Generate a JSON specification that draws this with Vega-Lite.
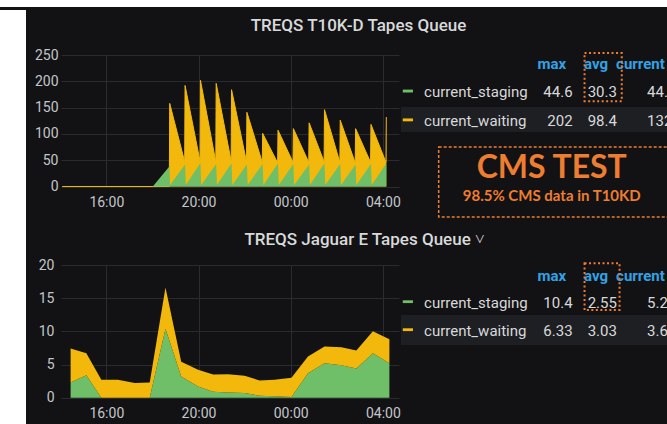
{
  "$schema": "https://vega.github.io/schema/vega-lite/v6.json",
  "background": "#121214",
  "padding": 0,
  "spacing": 0,
  "config": {
    "font": "Roboto",
    "view": {"stroke": null},
    "axis": {"labelFont": "Roboto", "labelFontSize": 14, "labelColor": "#c4c6ca", "gridColor": "#2a2b2f", "gridWidth": 1, "domain": false, "ticks": false},
    "title": {"font": "Roboto", "fontSize": 17, "fontWeight": 500, "color": "#d8d9da", "anchor": "middle"}
  },
  "datasets": {
    "t10k": [
      {"t": "2020-01-01T14:05Z", "series": "current_staging", "v": 0},
      {"t": "2020-01-01T18:01Z", "series": "current_staging", "v": 0},
      {"t": "2020-01-01T18:44Z", "series": "current_staging", "v": 38},
      {"t": "2020-01-01T18:46Z", "series": "current_staging", "v": 3},
      {"t": "2020-01-01T19:25Z", "series": "current_staging", "v": 42},
      {"t": "2020-01-01T19:27Z", "series": "current_staging", "v": 3},
      {"t": "2020-01-01T20:05Z", "series": "current_staging", "v": 44.6},
      {"t": "2020-01-01T20:07Z", "series": "current_staging", "v": 3},
      {"t": "2020-01-01T20:46Z", "series": "current_staging", "v": 43},
      {"t": "2020-01-01T20:48Z", "series": "current_staging", "v": 3},
      {"t": "2020-01-01T21:26Z", "series": "current_staging", "v": 44},
      {"t": "2020-01-01T21:28Z", "series": "current_staging", "v": 3},
      {"t": "2020-01-01T22:06Z", "series": "current_staging", "v": 42},
      {"t": "2020-01-01T22:08Z", "series": "current_staging", "v": 3},
      {"t": "2020-01-01T22:47Z", "series": "current_staging", "v": 43},
      {"t": "2020-01-01T22:49Z", "series": "current_staging", "v": 3},
      {"t": "2020-01-01T23:27Z", "series": "current_staging", "v": 44},
      {"t": "2020-01-01T23:29Z", "series": "current_staging", "v": 3},
      {"t": "2020-01-02T00:07Z", "series": "current_staging", "v": 43},
      {"t": "2020-01-02T00:09Z", "series": "current_staging", "v": 3},
      {"t": "2020-01-02T00:48Z", "series": "current_staging", "v": 42},
      {"t": "2020-01-02T00:50Z", "series": "current_staging", "v": 3},
      {"t": "2020-01-02T01:28Z", "series": "current_staging", "v": 44},
      {"t": "2020-01-02T01:30Z", "series": "current_staging", "v": 3},
      {"t": "2020-01-02T02:09Z", "series": "current_staging", "v": 43},
      {"t": "2020-01-02T02:11Z", "series": "current_staging", "v": 3},
      {"t": "2020-01-02T02:49Z", "series": "current_staging", "v": 42},
      {"t": "2020-01-02T02:51Z", "series": "current_staging", "v": 3},
      {"t": "2020-01-02T03:29Z", "series": "current_staging", "v": 43},
      {"t": "2020-01-02T03:31Z", "series": "current_staging", "v": 3},
      {"t": "2020-01-02T04:09Z", "series": "current_staging", "v": 44.4},
      {"t": "2020-01-01T14:05Z", "series": "current_waiting", "v": 0},
      {"t": "2020-01-01T18:44Z", "series": "current_waiting", "v": 0},
      {"t": "2020-01-01T18:45Z", "series": "current_waiting", "v": 158},
      {"t": "2020-01-01T19:24Z", "series": "current_waiting", "v": 47},
      {"t": "2020-01-01T19:25Z", "series": "current_waiting", "v": 192},
      {"t": "2020-01-01T20:04Z", "series": "current_waiting", "v": 48},
      {"t": "2020-01-01T20:05Z", "series": "current_waiting", "v": 202},
      {"t": "2020-01-01T20:45Z", "series": "current_waiting", "v": 47},
      {"t": "2020-01-01T20:46Z", "series": "current_waiting", "v": 196},
      {"t": "2020-01-01T21:25Z", "series": "current_waiting", "v": 48},
      {"t": "2020-01-01T21:26Z", "series": "current_waiting", "v": 184},
      {"t": "2020-01-01T22:05Z", "series": "current_waiting", "v": 47},
      {"t": "2020-01-01T22:06Z", "series": "current_waiting", "v": 141},
      {"t": "2020-01-01T22:46Z", "series": "current_waiting", "v": 46},
      {"t": "2020-01-01T22:47Z", "series": "current_waiting", "v": 101},
      {"t": "2020-01-01T23:26Z", "series": "current_waiting", "v": 45},
      {"t": "2020-01-01T23:27Z", "series": "current_waiting", "v": 107},
      {"t": "2020-01-02T00:06Z", "series": "current_waiting", "v": 46},
      {"t": "2020-01-02T00:07Z", "series": "current_waiting", "v": 110},
      {"t": "2020-01-02T00:47Z", "series": "current_waiting", "v": 46},
      {"t": "2020-01-02T00:48Z", "series": "current_waiting", "v": 121},
      {"t": "2020-01-02T01:27Z", "series": "current_waiting", "v": 47},
      {"t": "2020-01-02T01:28Z", "series": "current_waiting", "v": 146},
      {"t": "2020-01-02T02:08Z", "series": "current_waiting", "v": 46},
      {"t": "2020-01-02T02:09Z", "series": "current_waiting", "v": 126},
      {"t": "2020-01-02T02:48Z", "series": "current_waiting", "v": 45},
      {"t": "2020-01-02T02:49Z", "series": "current_waiting", "v": 110},
      {"t": "2020-01-02T03:28Z", "series": "current_waiting", "v": 46},
      {"t": "2020-01-02T03:29Z", "series": "current_waiting", "v": 118},
      {"t": "2020-01-02T04:08Z", "series": "current_waiting", "v": 46},
      {"t": "2020-01-02T04:09Z", "series": "current_waiting", "v": 132}
    ],
    "jaguar": [
      {"t": "2020-01-01T14:27Z", "series": "current_staging", "v": 2.3},
      {"t": "2020-01-01T15:08Z", "series": "current_staging", "v": 3.4},
      {"t": "2020-01-01T15:47Z", "series": "current_staging", "v": 0},
      {"t": "2020-01-01T16:30Z", "series": "current_staging", "v": 0},
      {"t": "2020-01-01T17:14Z", "series": "current_staging", "v": 0},
      {"t": "2020-01-01T17:53Z", "series": "current_staging", "v": 0},
      {"t": "2020-01-01T18:34Z", "series": "current_staging", "v": 10.4},
      {"t": "2020-01-01T19:15Z", "series": "current_staging", "v": 3.2},
      {"t": "2020-01-01T19:59Z", "series": "current_staging", "v": 1.7},
      {"t": "2020-01-01T20:38Z", "series": "current_staging", "v": 0.9},
      {"t": "2020-01-01T21:17Z", "series": "current_staging", "v": 0.8},
      {"t": "2020-01-01T22:00Z", "series": "current_staging", "v": 0.7},
      {"t": "2020-01-01T22:39Z", "series": "current_staging", "v": 0.3},
      {"t": "2020-01-01T23:18Z", "series": "current_staging", "v": 0.2},
      {"t": "2020-01-02T00:02Z", "series": "current_staging", "v": 0.1},
      {"t": "2020-01-02T00:45Z", "series": "current_staging", "v": 3.7},
      {"t": "2020-01-02T01:28Z", "series": "current_staging", "v": 5.2},
      {"t": "2020-01-02T02:12Z", "series": "current_staging", "v": 4.9},
      {"t": "2020-01-02T02:51Z", "series": "current_staging", "v": 4.4},
      {"t": "2020-01-02T03:34Z", "series": "current_staging", "v": 6.7},
      {"t": "2020-01-02T04:17Z", "series": "current_staging", "v": 5.2},
      {"t": "2020-01-01T14:27Z", "series": "current_waiting", "v": 5.1},
      {"t": "2020-01-01T15:08Z", "series": "current_waiting", "v": 3.3},
      {"t": "2020-01-01T15:47Z", "series": "current_waiting", "v": 2.7},
      {"t": "2020-01-01T16:30Z", "series": "current_waiting", "v": 2.7},
      {"t": "2020-01-01T17:14Z", "series": "current_waiting", "v": 2.2},
      {"t": "2020-01-01T17:53Z", "series": "current_waiting", "v": 2.3},
      {"t": "2020-01-01T18:34Z", "series": "current_waiting", "v": 6.2},
      {"t": "2020-01-01T19:15Z", "series": "current_waiting", "v": 2.2},
      {"t": "2020-01-01T19:59Z", "series": "current_waiting", "v": 2.5},
      {"t": "2020-01-01T20:38Z", "series": "current_waiting", "v": 2.6},
      {"t": "2020-01-01T21:17Z", "series": "current_waiting", "v": 2.75},
      {"t": "2020-01-01T22:00Z", "series": "current_waiting", "v": 2.6},
      {"t": "2020-01-01T22:39Z", "series": "current_waiting", "v": 2.3},
      {"t": "2020-01-01T23:18Z", "series": "current_waiting", "v": 2.5},
      {"t": "2020-01-02T00:02Z", "series": "current_waiting", "v": 2.9},
      {"t": "2020-01-02T00:45Z", "series": "current_waiting", "v": 2.5},
      {"t": "2020-01-02T01:28Z", "series": "current_waiting", "v": 2.5},
      {"t": "2020-01-02T02:12Z", "series": "current_waiting", "v": 2.7},
      {"t": "2020-01-02T02:51Z", "series": "current_waiting", "v": 2.7},
      {"t": "2020-01-02T03:34Z", "series": "current_waiting", "v": 3.3},
      {"t": "2020-01-02T04:17Z", "series": "current_waiting", "v": 3.6}
    ],
    "legendRows": [
      {"row": "current_staging", "col": "name", "series": "current_staging"},
      {"row": "current_waiting", "col": "name", "series": "current_waiting"}
    ],
    "headers": [
      {"row": "hdr", "col": "max", "text": "max"},
      {"row": "hdr", "col": "avg", "text": "avg"},
      {"row": "hdr", "col": "current", "text": "current"}
    ]
  },
  "vconcat": [
    {
      "width": 667, "height": 7,
      "view": {"fill": "#ffffff", "stroke": null},
      "data": {"values": [{"k": 0}]},
      "mark": {"type": "rect", "color": "#ffffff"},
      "encoding": {}
    },
    {
      "spacing": 0,
      "hconcat": [
        {
          "width": 26, "height": 417,
          "view": {"fill": "#ffffff", "stroke": null},
          "data": {"values": [{"k": 0}]},
          "mark": {"type": "rect", "color": "#ffffff"},
          "encoding": {}
        },
        {
          "spacing": 3,
          "vconcat": [
            {
              "width": 1, "height": 1,
              "data": {"values": [{"k": 0}]},
              "mark": {"type": "point", "opacity": 0},
              "encoding": {}
            },
            {
              "title": {"text": "TREQS T10K-D Tapes Queue", "dx": 12, "offset": 13},
              "spacing": 0,
              "hconcat": [
                {
                  "width": 338, "height": 131.5,
                  "data": {"name": "t10k"},
                  "encoding": {
                    "x": {"field": "t", "type": "temporal", "title": null,
                      "scale": {"type": "utc", "domain": [1577887320000, 1577940120000]},
                      "axis": {"labelExpr": "utcFormat(datum.value, '%H:%M')", "values": [1577894400000, 1577908800000, 1577923200000, 1577937600000], "labelPadding": 9, "grid": true, "labelFlush": false}},
                    "y": {"field": "v", "type": "quantitative", "stack": null, "title": null,
                      "scale": {"domain": [0, 250], "nice": false},
                      "axis": {"values": [0, 50, 100, 150, 200, 250], "labelPadding": 3, "minExtent": 35}},
                    "color": {"field": "series", "type": "nominal", "legend": null,
                      "scale": {"domain": ["current_staging", "current_waiting"], "range": ["#6EBF67", "#F2B80C"]}}
                  },
                  "layer": [
                    {"transform": [{"filter": "datum.series == 'current_waiting'"}], "mark": {"type": "area", "opacity": 1, "line": {"strokeWidth": 1}}},
                    {"transform": [{"filter": "datum.series == 'current_staging'"}], "mark": {"type": "area", "opacity": 1}}
                  ]
                },
                {
                  "width": 266, "height": 173,
                  "layer": [
                    {
                      "data": {"values": [{"row": "current_waiting"}]},
                      "mark": {"type": "rect", "color": "#1e1f23"},
                      "encoding": {
                        "y": {"field": "row", "type": "nominal", "bandPosition": -0.2, "axis": null, "scale": {"type": "band", "domain": ["hdr", "current_staging", "current_waiting", "gap", "cms", "sub"], "paddingInner": 0, "paddingOuter": 0}},
                        "y2": {"field": "row", "bandPosition": 0.67}
                      }
                    },
                    {
                      "data": {"name": "legendRows"},
                      "mark": {"type": "rect"},
                      "encoding": {
                        "x": {"field": "col", "type": "nominal", "bandPosition": 0.04, "axis": null, "scale": {"type": "band", "domain": ["name", "n2", "n3", "max", "avg", "current"], "paddingInner": 0, "paddingOuter": 0}},
                        "x2": {"field": "col", "bandPosition": 0.27},
                        "y": {"field": "row", "type": "nominal", "bandPosition": 0.2, "axis": null},
                        "y2": {"field": "row", "bandPosition": 0.3},
                        "color": {"field": "series", "type": "nominal", "legend": null, "scale": {"domain": ["current_staging", "current_waiting"], "range": ["#6EBF67", "#F2B80C"]}}
                      }
                    },
                    {
                      "data": {"name": "legendRows"},
                      "mark": {"type": "text", "align": "left", "baseline": "middle", "fontSize": 15, "color": "#d8d9da"},
                      "encoding": {
                        "x": {"field": "col", "type": "nominal", "bandPosition": 0.52, "axis": null},
                        "y": {"field": "row", "type": "nominal", "bandPosition": 0.28, "axis": null},
                        "text": {"field": "series"}
                      }
                    },
                    {
                      "data": {"values": [
                        {"row": "current_staging", "col": "max", "text": "44.6"},
                        {"row": "current_staging", "col": "avg", "text": "30.3"},
                        {"row": "current_waiting", "col": "max", "text": "202"},
                        {"row": "current_waiting", "col": "avg", "text": "98.4"}
                      ]},
                      "mark": {"type": "text", "align": "right", "baseline": "middle", "fontSize": 15, "color": "#d8d9da"},
                      "encoding": {
                        "x": {"field": "col", "type": "nominal", "bandPosition": 0.87, "axis": null},
                        "y": {"field": "row", "type": "nominal", "bandPosition": 0.28, "axis": null},
                        "text": {"field": "text"}
                      }
                    },
                    {
                      "data": {"values": [
                        {"row": "current_staging", "col": "current", "text": "44.4"},
                        {"row": "current_waiting", "col": "current", "text": "132"}
                      ]},
                      "mark": {"type": "text", "align": "left", "baseline": "middle", "fontSize": 15, "color": "#d8d9da", "clip": true},
                      "encoding": {
                        "x": {"field": "col", "type": "nominal", "bandPosition": 0.55, "axis": null},
                        "y": {"field": "row", "type": "nominal", "bandPosition": 0.28, "axis": null},
                        "text": {"field": "text"}
                      }
                    },
                    {
                      "data": {"name": "headers"},
                      "mark": {"type": "text", "align": "center", "baseline": "middle", "fontSize": 15, "fontWeight": "bold", "color": "#33A2E5", "clip": true},
                      "encoding": {
                        "x": {"field": "col", "type": "nominal", "bandPosition": 0.4, "axis": null},
                        "y": {"field": "row", "type": "nominal", "bandPosition": 0.3, "axis": null},
                        "text": {"field": "text"}
                      }
                    },
                    {
                      "data": {"values": [{"col": "avg", "row": "current_staging", "top": "hdr"}]},
                      "mark": {"type": "rect", "filled": false, "color": "#ED7D31", "strokeWidth": 2, "strokeDash": [2, 2.5]},
                      "encoding": {
                        "x": {"field": "col", "type": "nominal", "bandPosition": 0.14, "axis": null},
                        "x2": {"field": "col", "bandPosition": 0.98},
                        "y": {"field": "row", "type": "nominal", "bandPosition": 0.6, "axis": null},
                        "y2": {"field": "top", "bandPosition": -0.07}
                      }
                    },
                    {
                      "data": {"values": [{"col": "name", "col2": "current", "row": "gap", "row2": "sub"}]},
                      "mark": {"type": "rect", "filled": false, "color": "#ED7D31", "strokeWidth": 1.5, "strokeDash": [3, 2], "clip": true},
                      "encoding": {
                        "x": {"field": "col", "type": "nominal", "bandPosition": 0.85, "axis": null},
                        "x2": {"field": "col2", "bandPosition": 1.5},
                        "y": {"field": "row", "type": "nominal", "bandPosition": 0.19, "axis": null},
                        "y2": {"field": "row2", "bandPosition": 0.62}
                      }
                    },
                    {
                      "data": {"values": [{"row": "cms", "col": "max", "text": "CMS TEST"}]},
                      "mark": {"type": "text", "align": "center", "baseline": "middle", "font": "Lato", "fontSize": 32, "fontWeight": "bold", "color": "#ED7D31"},
                      "encoding": {
                        "x": {"field": "col", "type": "nominal", "bandPosition": 0.4, "axis": null},
                        "y": {"field": "row", "type": "nominal", "bandPosition": -0.08, "axis": null},
                        "text": {"field": "text"}
                      }
                    },
                    {
                      "data": {"values": [{"row": "sub", "col": "max", "text": "98.5% CMS data in T10KD"}]},
                      "mark": {"type": "text", "align": "center", "baseline": "middle", "font": "Lato", "fontSize": 15, "fontWeight": "bold", "color": "#ED7D31"},
                      "encoding": {
                        "x": {"field": "col", "type": "nominal", "bandPosition": 0.4, "axis": null},
                        "y": {"field": "row", "type": "nominal", "bandPosition": -0.12, "axis": null},
                        "text": {"field": "text"}
                      }
                    }
                  ]
                }
              ]
            },
            {
              "title": {"text": "TREQS Jaguar E Tapes Queue ˅", "dx": 18, "offset": 9},
              "spacing": 0,
              "hconcat": [
                {
                  "width": 338, "height": 132.7,
                  "data": {"name": "jaguar"},
                  "mark": {"type": "area", "opacity": 1},
                  "encoding": {
                    "x": {"field": "t", "type": "temporal", "title": null,
                      "scale": {"type": "utc", "domain": [1577887320000, 1577940120000]},
                      "axis": {"labelExpr": "utcFormat(datum.value, '%H:%M')", "values": [1577894400000, 1577908800000, 1577923200000, 1577937600000], "labelPadding": 9, "grid": true, "labelFlush": false}},
                    "y": {"field": "v", "type": "quantitative", "stack": "zero", "title": null,
                      "scale": {"domain": [0, 20], "nice": false},
                      "axis": {"values": [0, 5, 10, 15, 20], "labelPadding": 7, "minExtent": 35}},
                    "color": {"field": "series", "type": "nominal", "legend": null,
                      "scale": {"domain": ["current_staging", "current_waiting"], "range": ["#6EBF67", "#F2B80C"]}},
                    "order": {"field": "series", "sort": "ascending"}
                  }
                },
                {
                  "width": 266, "height": 84,
                  "layer": [
                    {
                      "data": {"values": [{"row": "current_waiting"}]},
                      "mark": {"type": "rect", "color": "#1e1f23"},
                      "encoding": {
                        "y": {"field": "row", "type": "nominal", "bandPosition": -0.21, "axis": null, "scale": {"type": "band", "domain": ["hdr", "current_staging", "current_waiting"], "paddingInner": 0, "paddingOuter": 0}},
                        "y2": {"field": "row", "bandPosition": 0.86}
                      }
                    },
                    {
                      "data": {"name": "legendRows"},
                      "mark": {"type": "rect"},
                      "encoding": {
                        "x": {"field": "col", "type": "nominal", "bandPosition": 0.04, "axis": null, "scale": {"type": "band", "domain": ["name", "n2", "n3", "max", "avg", "current"], "paddingInner": 0, "paddingOuter": 0}},
                        "x2": {"field": "col", "bandPosition": 0.27},
                        "y": {"field": "row", "type": "nominal", "bandPosition": 0.26, "axis": null},
                        "y2": {"field": "row", "bandPosition": 0.36},
                        "color": {"field": "series", "type": "nominal", "legend": null, "scale": {"domain": ["current_staging", "current_waiting"], "range": ["#6EBF67", "#F2B80C"]}}
                      }
                    },
                    {
                      "data": {"name": "legendRows"},
                      "mark": {"type": "text", "align": "left", "baseline": "middle", "fontSize": 15, "color": "#d8d9da"},
                      "encoding": {
                        "x": {"field": "col", "type": "nominal", "bandPosition": 0.52, "axis": null},
                        "y": {"field": "row", "type": "nominal", "bandPosition": 0.34, "axis": null},
                        "text": {"field": "series"}
                      }
                    },
                    {
                      "data": {"values": [
                        {"row": "current_staging", "col": "max", "text": "10.4"},
                        {"row": "current_staging", "col": "avg", "text": "2.55"},
                        {"row": "current_waiting", "col": "max", "text": "6.33"},
                        {"row": "current_waiting", "col": "avg", "text": "3.03"}
                      ]},
                      "mark": {"type": "text", "align": "right", "baseline": "middle", "fontSize": 15, "color": "#d8d9da"},
                      "encoding": {
                        "x": {"field": "col", "type": "nominal", "bandPosition": 0.87, "axis": null},
                        "y": {"field": "row", "type": "nominal", "bandPosition": 0.34, "axis": null},
                        "text": {"field": "text"}
                      }
                    },
                    {
                      "data": {"values": [
                        {"row": "current_staging", "col": "current", "text": "5.2"},
                        {"row": "current_waiting", "col": "current", "text": "3.6"}
                      ]},
                      "mark": {"type": "text", "align": "left", "baseline": "middle", "fontSize": 15, "color": "#d8d9da", "clip": true},
                      "encoding": {
                        "x": {"field": "col", "type": "nominal", "bandPosition": 0.55, "axis": null},
                        "y": {"field": "row", "type": "nominal", "bandPosition": 0.34, "axis": null},
                        "text": {"field": "text"}
                      }
                    },
                    {
                      "data": {"name": "headers"},
                      "mark": {"type": "text", "align": "center", "baseline": "middle", "fontSize": 15, "fontWeight": "bold", "color": "#33A2E5", "clip": true},
                      "encoding": {
                        "x": {"field": "col", "type": "nominal", "bandPosition": 0.4, "axis": null},
                        "y": {"field": "row", "type": "nominal", "bandPosition": 0.38, "axis": null},
                        "text": {"field": "text"}
                      }
                    },
                    {
                      "data": {"values": [{"col": "avg", "row": "current_staging", "top": "hdr"}]},
                      "mark": {"type": "rect", "filled": false, "color": "#ED7D31", "strokeWidth": 2, "strokeDash": [2, 2.5]},
                      "encoding": {
                        "x": {"field": "col", "type": "nominal", "bandPosition": 0.14, "axis": null},
                        "x2": {"field": "col", "bandPosition": 0.93},
                        "y": {"field": "row", "type": "nominal", "bandPosition": 0.61, "axis": null},
                        "y2": {"field": "top", "bandPosition": -0.06}
                      }
                    }
                  ]
                }
              ]
            }
          ]
        }
      ]
    }
  ]
}
